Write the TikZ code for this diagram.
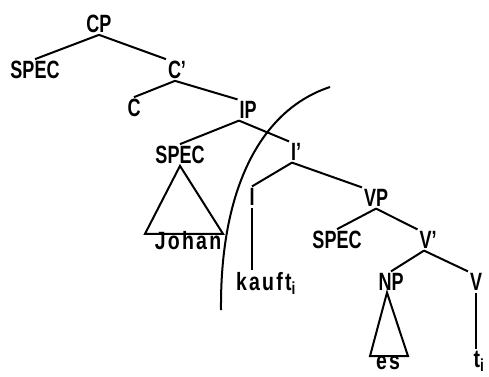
\documentclass[tikz,border=0pt]{standalone}
\usepackage{fontspec}
\setmainfont[FakeStretch=0.72]{Liberation Sans}
\newfontfamily\wordfont[FakeStretch=0.78,LetterSpace=9]{Liberation Sans}

\begin{document}
\begin{tikzpicture}[x=1pt,y=-1pt,line width=2pt,
    lab/.style={inner sep=1pt,font=\fontsize{25}{28}\selectfont\bfseries},
    word/.style={inner sep=1pt,font=\fontsize{25}{28}\selectfont\wordfont\bfseries}]
  \useasboundingbox (0,0) rectangle (489,376);

  \node[lab] (cp) at (99,24) {CP};
  \node[lab] (spec1) at (35,70) {SPEC};
  \node[lab] (cbar) at (177,70) {C’};
  \node[lab] (c) at (134,108) {C};
  \node[lab] (ip) at (248,110) {IP};
  \node[lab] (spec2) at (180,155) {SPEC};
  \node[word] (johan) at (188,241) {Johan};
  \node[lab] (ibar) at (296,152) {I’};
  \node[lab] (i) at (252,197) {I};
  \node[word] (kauft) at (266,283) {kauft\textsubscript{i}};
  \node[lab] (vp) at (376,198) {VP};
  \node[lab] (spec3) at (337,240) {SPEC};
  \node[lab] (vbar) at (428,240) {V’};
  \node[lab] (np) at (391,282) {NP};
  \node[lab] (v) at (476,282) {V};
  \node[word] (es) at (388,363) {es};
  \node[word] (t) at (479,361) {t\textsubscript{i}};

  \draw (cp.south) -- (spec1.north);
  \draw (cp.south) -- (cbar.north west);
  \draw ([xshift=-2pt]cbar.south) -- (c.north);
  \draw ([xshift=-2pt]cbar.south) -- (ip.north west);
  \draw ([xshift=-9pt]ip.south) -- (spec2.north);
  \draw ([xshift=-9pt]ip.south) -- (ibar.north west);
  \draw ([xshift=-4pt]ibar.south) -- (i.north);
  \draw ([xshift=-4pt]ibar.south) -- (vp.north west);
  \draw (i.south) -- (i.south |- kauft.north);
  \draw (vp.south) -- (spec3.north);
  \draw (vp.south) -- (vbar.north west);
  \draw ([xshift=-4pt]vbar.south) -- (np.north);
  \draw ([xshift=-4pt]vbar.south) -- (v.north west);
  \draw (v.south) -- (v.south |- t.north);

  % triangles
  \draw (spec2.south) -- ([xshift=35pt,yshift=-4pt]johan.north)
    -- ([xshift=-43pt,yshift=-4pt]johan.north) -- cycle;
  \draw ([xshift=-4pt]np.south) -- ([xshift=20pt,yshift=-2pt]es.north)
    -- ([xshift=-18pt,yshift=-2pt]es.north) -- cycle;

  % curve
  \draw (330,87) .. controls (260,110) and (220,190) .. (221,310);
\end{tikzpicture}
\end{document}
